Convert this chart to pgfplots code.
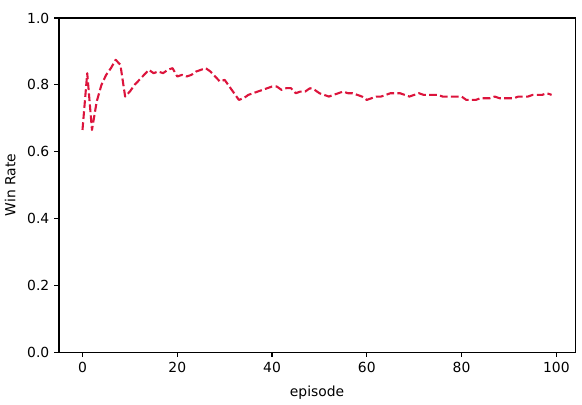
\documentclass[border=0pt]{standalone}
\usepackage{fontspec}
\setmainfont{DejaVu Sans}
\usepackage{pgfplots}
\pgfplotsset{compat=1.18}
\definecolor{crimson}{RGB}{220,20,60}
\begin{document}
\begin{tikzpicture}
\begin{axis}[
    scale only axis,
    width=371.5pt,
    height=240.5pt,
    xmin=-4.95, xmax=103.95,
    ymin=0, ymax=1,
    xtick={0,20,40,60,80,100},
    ytick={0,0.2,0.4,0.6,0.8,1.0},
    yticklabel style={/pgf/number format/.cd,fixed,fixed zerofill,precision=1},
    /pgf/number format/assume math mode=true,
    tick align=outside,
    major tick length=3.5pt,
    tick style={line width=0.8pt,black},
    axis line style={line width=0.8pt},
    xtick pos=bottom, ytick pos=left,
    ticklabel style={font=\fontsize{10}{12}\selectfont},
    label style={font=\fontsize{10}{12}\selectfont},
    xlabel={episode},
    ylabel={Win Rate},
    xlabel style={yshift=-3pt},
    ylabel style={yshift=1.5pt},
]
\addplot[color=crimson, line width=1.5pt, line join=round, dash pattern=on 5.55pt off 2.4pt, mark=none] coordinates {
(0,0.665) (1,0.835) (2,0.665) (3,0.75) (4,0.80) (5,0.83) (6,0.85) (7,0.875) (8,0.86) (9,0.765)
(10,0.78) (11,0.80) (12,0.815) (13,0.83) (14,0.845) (15,0.835) (16,0.84) (17,0.835) (18,0.845) (19,0.85)
(20,0.825) (21,0.83) (22,0.825) (23,0.83) (24,0.84) (25,0.845) (26,0.85) (27,0.84) (28,0.825) (29,0.81)
(30,0.815) (31,0.795) (32,0.775) (33,0.755) (34,0.76) (35,0.77) (36,0.775) (37,0.78) (38,0.785) (39,0.79)
(40,0.795) (41,0.795) (42,0.785) (43,0.79) (44,0.79) (45,0.775) (46,0.78) (47,0.78) (48,0.79) (49,0.785)
(50,0.775) (51,0.77) (52,0.765) (53,0.77) (54,0.775) (55,0.78) (56,0.775) (57,0.775) (58,0.77) (59,0.765)
(60,0.755) (61,0.76) (62,0.765) (63,0.765) (64,0.77) (65,0.775) (66,0.775) (67,0.775) (68,0.77) (69,0.765)
(70,0.77) (71,0.775) (72,0.77) (73,0.77) (74,0.77) (75,0.77) (76,0.765) (77,0.765) (78,0.765) (79,0.765)
(80,0.765) (81,0.755) (82,0.755) (83,0.755) (84,0.76) (85,0.76) (86,0.76) (87,0.765) (88,0.76) (89,0.76)
(90,0.76) (91,0.76) (92,0.765) (93,0.765) (94,0.765) (95,0.77) (96,0.77) (97,0.77) (98,0.775) (99,0.77)
};
\end{axis}
\pgfresetboundingbox
\path[use as bounding box] ([xshift=-42.5pt,yshift=-37.4pt]current axis.south west) rectangle ([xshift=5pt,yshift=13pt]current axis.north east);
\end{tikzpicture}
\end{document}
